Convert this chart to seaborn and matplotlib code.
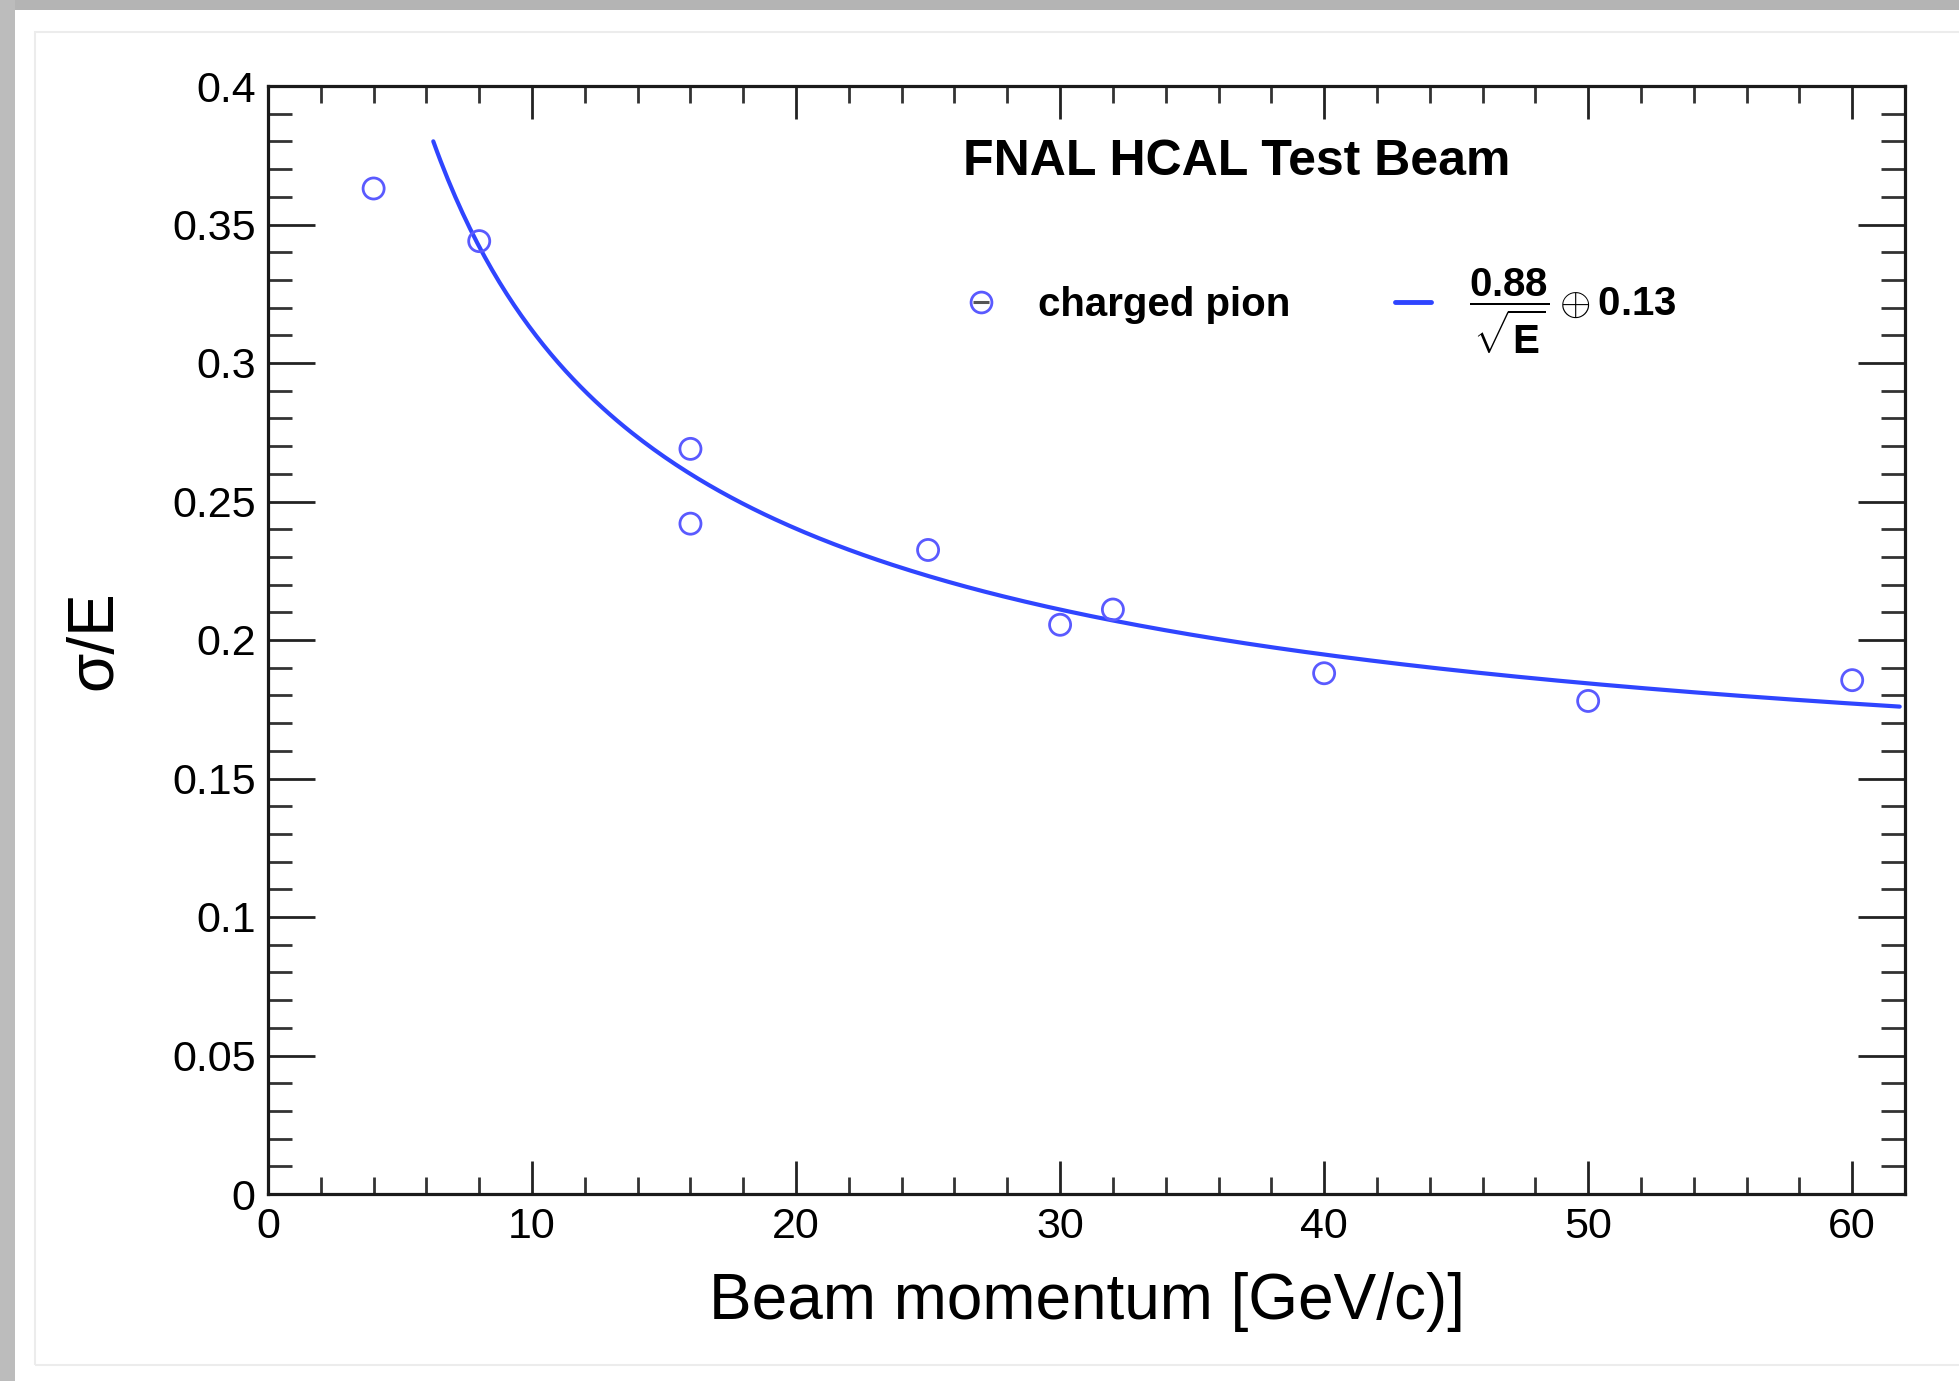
import numpy as np
import pandas as pd
import matplotlib
matplotlib.use("Agg")
import matplotlib.pyplot as plt
import seaborn as sns
from matplotlib.lines import Line2D
from matplotlib.legend_handler import HandlerTuple
from matplotlib.ticker import MultipleLocator, FuncFormatter
from matplotlib.patches import Rectangle

# ---------------- data ----------------
beam_momentum = [4, 8, 16, 16, 25, 30, 32, 40, 50, 60]
sigma_over_e = [0.363, 0.344, 0.269, 0.242, 0.2325, 0.2055, 0.211, 0.188, 0.178, 0.1855]

# fit: sigma/E = a/sqrt(E) (+) b   (legend shows rounded 0.88 and 0.13)
fit_stochastic = 0.889
fit_constant = 0.1348
fit_range = [6.26, 61.8]

x_major_ticks = [0, 10, 20, 30, 40, 50, 60]
y_major_ticks = [0, 0.05, 0.1, 0.15, 0.2, 0.25, 0.3, 0.35, 0.4]

title_text = "FNAL HCAL Test Beam"
series_label = "charged pion"
fit_label = r"$\dfrac{0.88}{\sqrt{E}}\oplus 0.13$"
x_label = "Beam momentum [GeV/c)]"
y_label = "σ/E"

# ---------------- style ----------------
sns.set_theme(style="ticks")
plt.rcParams["font.family"] = ["Liberation Sans", "DejaVu Sans"]
plt.rcParams["text.color"] = "black"
plt.rcParams["axes.labelcolor"] = "black"
plt.rcParams["xtick.color"] = "black"
plt.rcParams["ytick.color"] = "black"
plt.rcParams["xtick.labelcolor"] = "black"
plt.rcParams["ytick.labelcolor"] = "black"
plt.rcParams["mathtext.fontset"] = "custom"
plt.rcParams["mathtext.rm"] = "Liberation Sans:bold"
plt.rcParams["mathtext.bf"] = "Liberation Sans:bold"
plt.rcParams["mathtext.it"] = "Liberation Sans:bold"
plt.rcParams["mathtext.sf"] = "Liberation Sans:bold"
plt.rcParams["mathtext.default"] = "bf"

marker_color = "#5a5aff"
line_color = "#2f45ff"

W, H = 1959, 1381
fig = plt.figure(figsize=(W / 100, H / 100), dpi=100)
fig.patch.set_facecolor("white")

# screenshot frame (grey shadow bands and faint inner border)
fig.patches.append(Rectangle((0, 1 - 10 / H), 1, 10 / H, transform=fig.transFigure,
                             facecolor="#b4b4b4", edgecolor="none", zorder=0))
fig.patches.append(Rectangle((0, 0), 15 / W, 1, transform=fig.transFigure,
                             facecolor="#bcbcbc", edgecolor="none", zorder=0))
fig.patches.append(Rectangle((35 / W, 1 - 1365 / H), 1.2, (1365 - 32) / H,
                             transform=fig.transFigure, facecolor="none",
                             edgecolor="#ececec", linewidth=1.5, zorder=0))

ax = fig.add_axes([268 / W, 1 - 1194 / H, (1905 - 268) / W, (1194 - 86) / H])
ax.set_facecolor("white")

# fit curve
E = np.linspace(fit_range[0], fit_range[1], 400)
curve = np.sqrt(fit_stochastic ** 2 / E + fit_constant ** 2)
fit_df = pd.DataFrame({"E": E, "res": curve})
sns.lineplot(data=fit_df, x="E", y="res", ax=ax, color=line_color, linewidth=3,
             sort=False, estimator=None, zorder=3)

# data points
pts = pd.DataFrame({"p": beam_momentum, "r": sigma_over_e})
sns.scatterplot(data=pts, x="p", y="r", ax=ax, marker="o", s=230,
                facecolor="none", edgecolor=marker_color, linewidth=2.0, zorder=4)

ax.set_xlim(0, 62)
ax.set_ylim(0, 0.4)
ax.set_xticks(x_major_ticks)
ax.set_yticks(y_major_ticks)
ax.xaxis.set_minor_locator(MultipleLocator(2))
ax.yaxis.set_minor_locator(MultipleLocator(0.01))
ax.yaxis.set_major_formatter(FuncFormatter(lambda v, _: f"{v:g}"))
ax.xaxis.set_major_formatter(FuncFormatter(lambda v, _: f"{v:g}"))

ax.tick_params(axis="x", which="major", direction="in", length=24, width=2,
               top=True, bottom=True, labelsize=31, pad=9, color="#222222",
               labelcolor="black")
ax.tick_params(axis="x", which="minor", direction="in", length=12, width=2,
               top=True, bottom=True, color="#333333")
ax.tick_params(axis="y", which="major", direction="in", length=34, width=2,
               left=True, right=True, labelsize=31, pad=9, color="#222222",
               labelcolor="black")
ax.tick_params(axis="y", which="minor", direction="in", length=17, width=2,
               left=True, right=True, color="#333333")
for s in ax.spines.values():
    s.set_linewidth(2.3)
    s.set_color("#1a1a1a")
    s.set_visible(True)

ax.set_xlabel(x_label, fontsize=46, va="center", color="black")
ax.xaxis.set_label_coords(0.5, (1194 - 1302) / 1108)
ax.set_ylabel(y_label, fontsize=46, va="center", color="black")
ax.yaxis.set_label_coords((94 - 268) / 1637, 0.5)

ax.text((1237 - 268) / 1637, (1194 - 175) / 1108, title_text, transform=ax.transAxes,
        ha="center", va="baseline", fontsize=36, fontweight="bold", color="black")

# legend
h_pts = (Line2D([], [], marker="o", mfc="none", mec=marker_color, ms=15, mew=2, ls="none"),
         Line2D([], [], marker="_", color="#555555", ms=12, mew=2.2, ls="none"))
h_fit = Line2D([], [], color=line_color, lw=3.5)
leg = ax.legend([h_pts, h_fit], [series_label, fit_label],
                handler_map={tuple: HandlerTuple(ndivide=1, pad=0)},
                ncol=2, frameon=False,
                prop={"family": ["Liberation Sans", "DejaVu Sans"], "weight": "bold", "size": 29},
                loc="center left", bbox_to_anchor=(943 / W, 1 - 311 / H),
                bbox_transform=fig.transFigure, borderpad=0, handlelength=0.9,
                handletextpad=0.95, columnspacing=2.6)
for t in leg.get_texts():
    t.set_color("black")

fig.savefig("out.png", dpi=100)
